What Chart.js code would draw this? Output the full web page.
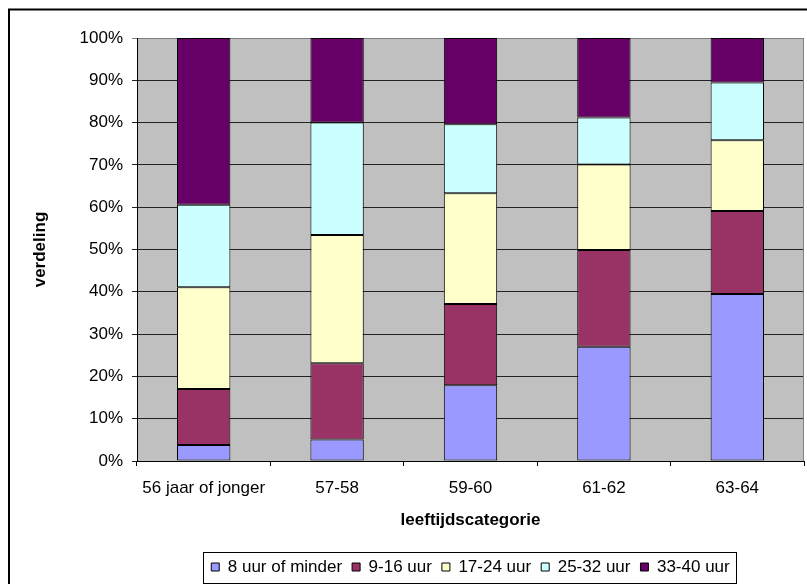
<!DOCTYPE html>
<html>
<head>
<meta charset="utf-8">
<script src="https://cdn.jsdelivr.net/npm/chart.js@4"></script>
<style>
html,body{margin:0;padding:0;background:#fff;}
#wrap{width:807px;height:584px;position:relative;}
</style>
</head>
<body>
<div id="wrap"><canvas id="c" width="807" height="584"></canvas></div>
<script>
const categories = ["56 jaar of jonger", "57-58", "59-60", "61-62", "63-64"];
const seriesNames = ["8 uur of minder", "9-16 uur", "17-24 uur", "25-32 uur", "33-40 uur"];
const s8orLess = [3.8, 5.1, 17.9, 27.0, 39.5];
const s9to16   = [13.2, 18.0, 19.2, 22.9, 19.6];
const s17to24  = [24.1, 30.3, 26.2, 20.2, 16.7];
const s25to32  = [19.5, 26.6, 16.3, 11.1, 13.7];
const s33to40  = [39.4, 20.0, 20.4, 18.8, 10.5];
const yTicks = [0, 10, 20, 30, 40, 50, 60, 70, 80, 90, 100];
const colors = ["#9999FF", "#993366", "#FFFFCC", "#CCFFFF", "#660066"];

const FONT = "'Liberation Sans', Arial, sans-serif";
Chart.defaults.font.family = FONT;
Chart.defaults.font.size = 17;
Chart.defaults.color = "#000";

const seriesData = [s8orLess, s9to16, s17to24, s25to32, s33to40];
const datasets = seriesNames.map((n, i) => ({
  label: n,
  data: seriesData[i],
  backgroundColor: colors[i],
  borderColor: "#000",
  borderWidth: 1,
  borderSkipped: false,
  barPercentage: 0.4,
  categoryPercentage: 1.0
}));

const decor = {
  id: "decor",
  beforeDraw(chart) {
    const ctx = chart.ctx;
    const a = chart.chartArea;
    ctx.save();
    ctx.fillStyle = "#fff";
    ctx.fillRect(0, 0, chart.width, chart.height);
    ctx.strokeStyle = "#000";
    ctx.lineWidth = 2;
    ctx.strokeRect(9, 9.5, chart.width + 10, chart.height + 10);
    ctx.fillStyle = "#C0C0C0";
    ctx.fillRect(a.left, a.top, a.right - a.left, a.bottom - a.top);
    ctx.restore();
  },
  afterDatasetsDraw(chart) {
    const ctx = chart.ctx;
    const a = chart.chartArea;
    ctx.save();
    ctx.strokeStyle = "#808080";
    ctx.lineWidth = 1;
    ctx.beginPath();
    ctx.moveTo(Math.round(a.right) - 0.5, a.top);
    ctx.lineTo(Math.round(a.right) - 0.5, a.bottom);
    ctx.stroke();
    ctx.restore();
  },
  afterDraw(chart) {
    const lg = chart.legend;
    if (!lg || !lg.legendHitBoxes || !lg.legendHitBoxes.length) return;
    const hb = lg.legendHitBoxes;
    let minX = Infinity, maxX = -Infinity, minY = Infinity, maxY = -Infinity;
    hb.forEach(h => {
      minX = Math.min(minX, h.left);
      maxX = Math.max(maxX, h.left + h.width);
      minY = Math.min(minY, h.top);
      maxY = Math.max(maxY, h.top + h.height);
    });
    const ctx = chart.ctx;
    ctx.save();
    ctx.strokeStyle = "#000";
    ctx.lineWidth = 1;
    const cy = (minY + maxY) / 2;
    ctx.strokeRect(Math.round(minX - 8) + 0.5, Math.round(cy - 15) + 0.5,
                   Math.round(maxX - minX + 15), 31);
    ctx.restore();
  }
};

new Chart(document.getElementById("c"), {
  type: "bar",
  data: { labels: categories, datasets },
  options: {
    responsive: false,
    animation: false,
    devicePixelRatio: 1,
    layout: { padding: { left: 0, right: 3, top: 38, bottom: 0 } },
    plugins: {
      tooltip: { enabled: false },
      legend: {
        position: "bottom",
        fullSize: false,
        maxHeight: 35.5,
        labels: {
          boxWidth: 8,
          boxHeight: 8,
          padding: 10,
          color: "#000",
          font: { size: 17, family: FONT }
        }
      }
    },
    scales: {
      x: {
        stacked: true,
        offset: true,
        grid: {
          offset: true,
          drawOnChartArea: false,
          drawTicks: true,
          tickLength: 5,
          color: "#000"
        },
        border: { color: "#000", width: 1 },
        ticks: { padding: 12, color: "#000", font: { size: 17 }, maxRotation: 0, autoSkip: false },
        title: {
          display: true,
          text: "leeftijdscategorie",
          color: "#000",
          font: { size: 17, weight: "bold" },
          padding: { top: 0, bottom: 18.3 }
        },
        afterFit(scale) { scale.height = 87.5; }
      },
      y: {
        stacked: true,
        min: 0,
        max: 100,
        afterBuildTicks(scale) { scale.ticks = yTicks.map(v => ({ value: v })); },
        grid: {
          color: ctx => (ctx.tick && ctx.tick.value === 100 ? "#808080" : "#222"),
          lineWidth: 1,
          drawTicks: true,
          tickLength: 5
        },
        border: { color: "#000", width: 1 },
        ticks: {
          padding: 9,
          color: "#000",
          font: { size: 17 },
          callback: v => v + "%"
        },
        title: {
          display: true,
          text: "verdeling",
          color: "#000",
          font: { size: 17, weight: "bold" },
          padding: { top: 29.8, bottom: 0 }
        },
        afterFit(scale) { scale.width = 137; }
      }
    }
  },
  plugins: [decor]
});
</script>
</body>
</html>
